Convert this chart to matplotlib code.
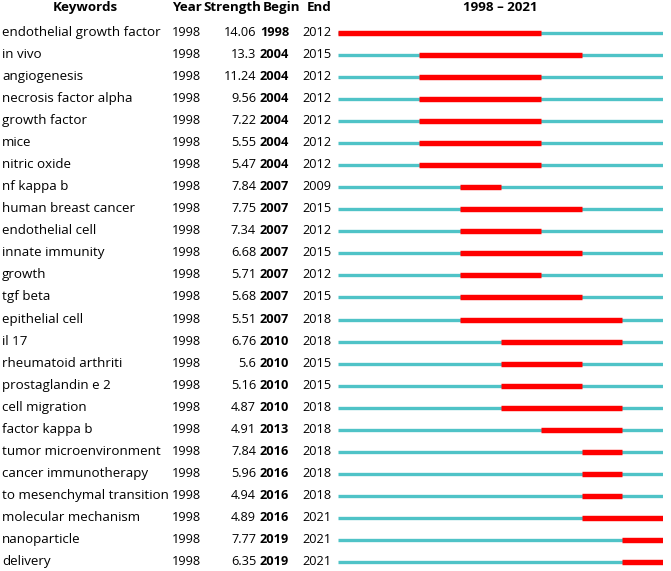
import matplotlib.pyplot as plt

keywords = ['endothelial growth factor', 'in vivo', 'angiogenesis', 'necrosis factor alpha',
            'growth factor', 'mice', 'nitric oxide', 'nf kappa b', 'human breast cancer',
            'endothelial cell', 'innate immunity', 'growth', 'tgf beta', 'epithelial cell',
            'il 17', 'rheumatoid arthriti', 'prostaglandin e 2', 'cell migration',
            'factor kappa b', 'tumor microenvironment', 'cancer immunotherapy',
            'to mesenchymal transition', 'molecular mechanism', 'nanoparticle', 'delivery']
year = [1998] * 25
strength = [14.06, 13.3, 11.24, 9.56, 7.22, 5.55, 5.47, 7.84, 7.75, 7.34, 6.68, 5.71, 5.68,
            5.51, 6.76, 5.6, 5.16, 4.87, 4.91, 7.84, 5.96, 4.94, 4.89, 7.77, 6.35]
begin = [1998, 2004, 2004, 2004, 2004, 2004, 2004, 2007, 2007, 2007, 2007, 2007, 2007,
         2007, 2010, 2010, 2010, 2010, 2013, 2016, 2016, 2016, 2016, 2019, 2019]
end = [2012, 2015, 2012, 2012, 2012, 2012, 2012, 2009, 2015, 2012, 2015, 2012, 2015,
       2018, 2018, 2015, 2015, 2018, 2018, 2018, 2018, 2018, 2021, 2021, 2021]
y_start, y_end = 1998, 2021

plt.rcParams['font.family'] = ['Open Sans', 'DejaVu Sans']
fs = 9.2      # numbers
fs_kw = 9.6   # keywords and header

W, H = 671, 571
fig = plt.figure(figsize=(W / 100, H / 100), dpi=100)

# rows: first at 33 px, step 22.04 px
row0, step = 33, 22.04
ylim = ((H - row0) / step, -row0 / step)

ax = fig.add_axes([0, 0, 1, 1])
ax.set_xlim(0, W)
ax.set_ylim(*ylim)
ax.axis('off')

hy = -1.0
hd = dict(va='baseline', fontsize=fs_kw, fontweight='bold')
ax.text(85, hy, 'Keywords', ha='center', **hd)
ax.text(172, hy, 'Year', ha='left', **hd)
ax.text(203, hy, 'Strength', ha='left', **hd)
ax.text(263, hy, 'Begin', ha='left', **hd)
ax.text(307, hy, 'End', ha='left', **hd)
ax.text(500.5, hy, f'{y_start} \u2013 {y_end}', ha='center', **hd)

for i, kw in enumerate(keywords):
    ty = i + 0.136
    ax.text(2, ty, kw, ha='left', va='baseline', fontsize=fs_kw)
    ax.text(172, ty, str(year[i]), ha='left', va='baseline', fontsize=fs)
    ax.text(256, ty, str(strength[i]), ha='right', va='baseline', fontsize=fs)
    ax.text(260, ty, str(begin[i]), ha='left', va='baseline', fontsize=fs, fontweight='bold')
    ax.text(302, ty, str(end[i]), ha='left', va='baseline', fontsize=fs)

# burst bars
bx = fig.add_axes([338 / W, 0, (663 - 338) / W, 1])
bx.set_xlim(y_start, y_end + 1)
bx.set_ylim(*ylim)
bx.axis('off')
rows = range(len(keywords))
bx.hlines(rows, y_start, y_end + 1, color='#4fc3c7', lw=2.4)
bx.hlines(rows, begin, [e + 1 for e in end], color='#ff0000', lw=3.9)

fig.savefig('out.png', dpi=100)
